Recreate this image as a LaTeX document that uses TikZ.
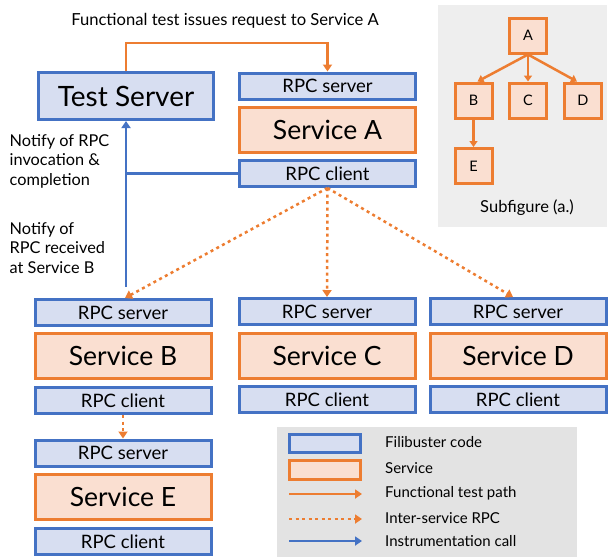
\documentclass[tikz,border=0pt]{standalone}
\usepackage{fontspec}
\setmainfont{Lato}
\usetikzlibrary{arrows.meta,calc}
\definecolor{blu}{HTML}{4472C4}
\definecolor{bluf}{HTML}{D7DEF1}
\definecolor{org}{HTML}{ED7D31}
\definecolor{orgf}{HTML}{FADFD1}
\definecolor{subbg}{HTML}{EEEEEE}
\definecolor{legbg}{HTML}{E3E3E3}
\newcommand{\fs}[1]{\fontsize{#1}{#1}\selectfont}
\tikzset{
  fbox/.style={draw=blu, fill=bluf, line width=3pt, minimum width=176pt, minimum height=26pt, inner sep=0pt, font=\fs{18.5}},
  sbox/.style={draw=org, fill=orgf, line width=3pt, minimum width=176pt, minimum height=45pt, inner sep=0pt, font=\fs{26.5}},
  lbox/.style={draw=org, fill=orgf, line width=3pt, minimum width=37pt, minimum height=35pt, inner sep=0pt, font=\fs{14.5}},
  tip/.style={-{Triangle[width=9pt,length=7pt]}},
  stip/.style={-{Triangle[width=8pt,length=6pt]}},
  fpath/.style={draw=org, line width=2.5pt, tip},
  rpc/.style={draw=org, line width=2.5pt, dash pattern=on 3pt off 3.5pt, tip},
  inst/.style={draw=blu, line width=2.5pt},
  lbl/.style={font=\fs{15}, align=left, anchor=west, inner sep=0pt},
  side/.style={font=\fs{16.3}, align=left, anchor=north west, inner sep=0pt},
}
\begin{document}
\begin{tikzpicture}[x=1pt,y=-1pt]
\useasboundingbox (0,0) rectangle (608,558);
% subfigure background
\fill[subbg] (438,5) rectangle (607,227);
% legend background
\fill[legbg] (277,427) rectangle (577,557);

% title
\node[font=\fs{16.6}, inner sep=0pt] (title) at (225,21) {Functional test issues request to Service A};

% Test server
\node[fbox, minimum width=175pt, minimum height=47pt, font=\fs{28}] (TS) at (126,96) {Test Server};

% Service A column
\node[fbox] (rsA) at (327.5,86) {RPC server};
\node[sbox] (svA) at (327.5,130) {Service A};
\node[fbox] (rcA) at (327.5,173.5) {RPC client};

% Service B column
\node[fbox] (rsB) at (123,312.5) {RPC server};
\node[sbox] (svB) at (123,356) {Service B};
\node[fbox] (rcB) at (123,400.5) {RPC client};

% Service C column
\node[fbox] (rsC) at (327,311.5) {RPC server};
\node[sbox] (svC) at (327,355.5) {Service C};
\node[fbox] (rcC) at (327,399.5) {RPC client};

% Service D column
\node[fbox] (rsD) at (518,311.5) {RPC server};
\node[sbox] (svD) at (518,355.5) {Service D};
\node[fbox] (rcD) at (518,399.5) {RPC client};

% Service E column
\node[fbox] (rsE) at (123,453) {RPC server};
\node[sbox] (svE) at (123,497) {Service E};
\node[fbox] (rcE) at (123,541.5) {RPC client};

% functional test path
\coordinate (ftop) at (126,43);
\draw[fpath] (TS.north) -- (ftop) -| (rsA.north);

% instrumentation
\coordinate (bstart) at (126,287);
\draw[inst, tip] (bstart) -- (TS.south);
\draw[inst] (rcA.west) -- (rcA.west -| TS.south);

% inter-service RPCs
\draw[rpc] (rcA.south) -- ($(rsB.north)+(2,0)$);
\draw[rpc] (rcA.south) -- (rsC.north);
\draw[rpc] (rcA.south) -- ($(rsD.north)+(-5,0)$);
\draw[rpc] (rcB.south) -- (rsE.north);

% left labels
\node[side] (n1) at (9.5,134) {Notify of RPC\\[3.5pt]invocation \&\\[3.5pt]completion};
\node[side] (n2) at (9.5,222) {Notify of\\[3.5pt]RPC received\\[3.5pt]at Service B};

% subfigure
\node[lbox] (a) at (528,35.5) {A};
\node[lbox] (b) at (473.5,100.5) {B};
\node[lbox] (c) at (528,100.5) {C};
\node[lbox] (d) at (583,100.5) {D};
\node[lbox] (e) at (473.5,166) {E};
\draw[draw=org, line width=2.5pt, stip] (a.south) -- ($(b.north)+(4,0)$);
\draw[draw=org, line width=2.5pt, stip] (a.south) -- (c.north);
\draw[draw=org, line width=2.5pt, stip] (a.south) -- ($(d.north)+(-6,0)$);
\draw[draw=org, line width=2.5pt, stip] (b.south) -- (e.north);
\node[font=\fs{16.5}, inner sep=0pt] (subl) at (527,208) {Subfigure (a.)};

% legend
\node[draw=blu, fill=bluf, line width=3pt, minimum width=71pt, minimum height=18pt, inner sep=0pt] (lg1) at (325,443.5) {};
\node[draw=org, fill=orgf, line width=3pt, minimum width=71pt, minimum height=19pt, inner sep=0pt] (lg2) at (325,470) {};
\coordinate (l3a) at (289,494); \coordinate (l3b) at (362,494);
\coordinate (l4a) at (289,519); \coordinate (l4b) at (362,519);
\coordinate (l5a) at (289,541); \coordinate (l5b) at (362,541);
\draw[fpath] (l3a) -- (l3b);
\draw[rpc] (l4a) -- (l4b);
\draw[inst, tip] (l5a) -- (l5b);
\node[lbl] (t1) at (385,442) {Filibuster code};
\node[lbl] (t2) at (385,468) {Service};
\node[lbl] (t3) at (385,493) {Functional test path};
\node[lbl] (t4) at (385,518) {Inter-service RPC};
\node[lbl] (t5) at (385,541) {Instrumentation call};
\end{tikzpicture}
\end{document}
